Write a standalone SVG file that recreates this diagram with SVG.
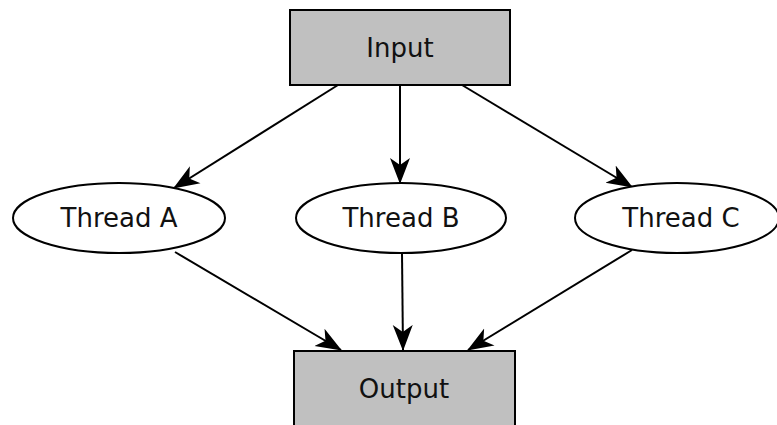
<svg xmlns="http://www.w3.org/2000/svg" width="777" height="425" viewBox="0 0 777 425">
<style>
.box{fill:#c0c0c0;stroke:#000;stroke-width:2}
.ell{fill:#fff;stroke:#000;stroke-width:2}
.lbl{font-family:"DejaVu Sans",Verdana,sans-serif;font-size:26px;fill:#111;text-anchor:middle}
.edge{stroke:#000;stroke-width:2;fill:none;marker-end:url(#ah)}
</style>
<defs>
<marker id="ah" markerUnits="userSpaceOnUse" viewBox="0 0 26 22" markerWidth="26" markerHeight="22" refX="25" refY="11" orient="auto">
<path d="M0,1 L26,11 L0,21 L7,11 Z" fill="#000"/>
</marker>
</defs>
<rect width="777" height="425" fill="#fff"/>
<g id="connectors">
<line class="edge" x1="338" y1="85" x2="174" y2="188"/>
<line class="edge" x1="400" y1="85" x2="400" y2="183"/>
<line class="edge" x1="462" y1="85" x2="632" y2="187"/>
<line class="edge" x1="175" y1="252" x2="341" y2="350"/>
<line class="edge" x1="402" y1="253" x2="403" y2="350"/>
<line class="edge" x1="632" y1="250" x2="468" y2="350"/>
</g>
<g id="input">
<rect class="box" x="290" y="10" width="220" height="75"/>
<text class="lbl" x="400" y="57">Input</text>
</g>
<g id="threadA">
<ellipse class="ell" cx="119" cy="218" rx="106" ry="35"/>
<text class="lbl" x="119" y="227">Thread A</text>
</g>
<g id="threadB">
<ellipse class="ell" cx="401" cy="218" rx="105" ry="35"/>
<text class="lbl" x="401" y="227">Thread B</text>
</g>
<g id="threadC">
<ellipse class="ell" cx="677" cy="218" rx="102" ry="35"/>
<text class="lbl" x="681" y="227">Thread C</text>
</g>
<g id="output">
<rect class="box" x="294" y="351" width="221" height="90"/>
<text class="lbl" x="404" y="398">Output</text>
</g>
</svg>
